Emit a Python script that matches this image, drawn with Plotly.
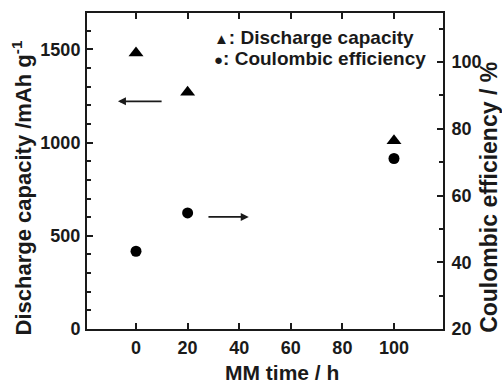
import plotly.graph_objects as go

# ---- data ----
mm_time = [0, 20, 100]
discharge_capacity = [1480, 1270, 1010]      # mAh g-1 (left axis)
coulombic_efficiency = [43.3, 54.8, 71.1]    # % (right axis)

x_ticks = [0, 20, 40, 60, 80, 100]
left_ticks = [0, 500, 1000, 1500]
right_ticks = [20, 40, 60, 80, 100]

legend_labels = ["<span style='font-size:15px'>▲</span>: Discharge capacity",
                 "<span style='font-size:15px'>●</span>: Coulombic efficiency"]
x_title = "MM time / h"
left_title = "Discharge capacity /mAh g<sup>-1</sup>"
right_title = "Coulombic efficiency / %"

FONT = "Liberation Sans, Arial, sans-serif"
INK = "#1a1a1a"

fig = go.Figure()
fig.add_trace(go.Scatter(
    x=mm_time, y=discharge_capacity, mode="markers",
    marker=dict(symbol="triangle-up", size=13, color="black"),
    yaxis="y", showlegend=False))
fig.add_trace(go.Scatter(
    x=mm_time, y=coulombic_efficiency, mode="markers",
    marker=dict(symbol="circle", size=11, color="black"),
    yaxis="y2", showlegend=False))

axis_common = dict(showline=True, linecolor=INK, linewidth=2, ticks="inside",
                   ticklen=6, tickwidth=1.5, tickcolor=INK, showgrid=False,
                   zeroline=False,
                   tickfont=dict(family=FONT, size=18, color=INK, weight="bold"))

fig.update_layout(
    width=502, height=384,
    margin=dict(l=87, r=59, t=13, b=55),
    paper_bgcolor="white", plot_bgcolor="white",
    xaxis=dict(**axis_common, range=[-19, 119], tickvals=x_ticks,
               mirror="ticks", ticklabelstandoff=1),
    yaxis=dict(**axis_common, range=[0, 1695], tickvals=left_ticks,
               ticklabelstandoff=1,
               minor=dict(dtick=100, ticks="inside", ticklen=4, tickcolor=INK, tickwidth=1.5)),
    yaxis2=dict(**axis_common, range=[20, 114.7], tickvals=right_ticks,
                overlaying="y", side="right", ticklabelstandoff=3,
                minor=dict(dtick=10, ticks="inside", ticklen=4, tickcolor=INK, tickwidth=1.5)),
)

# axis titles
fig.add_annotation(text=x_title, xref="paper", yref="paper", x=0.548, y=-0.138,
                   xanchor="center", yanchor="middle", showarrow=False,
                   font=dict(family=FONT, size=21, color=INK, weight="bold"))
fig.add_annotation(text=left_title, xref="paper", yref="paper", x=-0.1826, y=0.448,
                   xanchor="center", yanchor="middle", textangle=-90, showarrow=False,
                   font=dict(family=FONT, size=22, color=INK, weight="bold"))
fig.add_annotation(text=right_title, xref="paper", yref="paper", x=1.129, y=0.418,
                   xanchor="center", yanchor="middle", textangle=-90, showarrow=False,
                   font=dict(family=FONT, size=23, color=INK, weight="bold"))

# legend text (as annotations, like the reference's inline key)
for i, txt in enumerate(legend_labels):
    fig.add_annotation(text=txt, xref="paper", yref="paper",
                       x=0.351, y=[0.923, 0.855][i], xanchor="left", yanchor="middle",
                       showarrow=False,
                       font=dict(family=FONT, size=19, color=INK, weight="bold"))

# arrows pointing to the respective axes
fig.add_annotation(x=-7, y=1221, ax=10.5, ay=1221, xref="x", yref="y",
                   axref="x", ayref="y", text="", showarrow=True,
                   arrowhead=2, arrowsize=1, arrowwidth=1.6, arrowcolor=INK)
fig.add_annotation(x=43.7, y=53.6, ax=27.5, ay=53.6, xref="x", yref="y2",
                   axref="x", ayref="y2", text="", showarrow=True,
                   arrowhead=2, arrowsize=1, arrowwidth=1.6, arrowcolor=INK)

fig.write_html("out.html")
